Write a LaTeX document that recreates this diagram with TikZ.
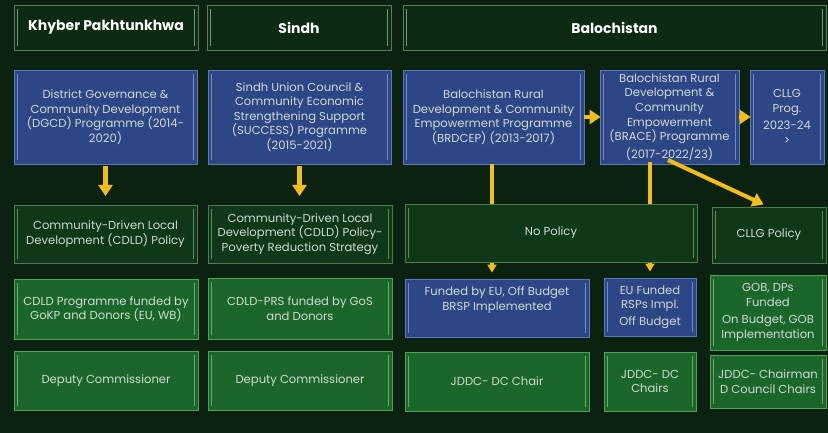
\documentclass[tikz,border=0pt]{standalone}
\usepackage{fontspec}
\setmainfont{Poppins}
\usepackage{tikz}
\usetikzlibrary{positioning,arrows.meta}
\definecolor{bgdark}{HTML}{0A220F}
\definecolor{headfill}{HTML}{0C2B12}
\definecolor{headline}{HTML}{5A7A5C}
\definecolor{bluefill}{HTML}{2C4686}
\definecolor{blueline}{HTML}{6F8CC8}
\definecolor{polfill}{HTML}{0E3817}
\definecolor{polline}{HTML}{4C7C4E}
\definecolor{greenfill}{HTML}{1B672B}
\definecolor{greenline}{HTML}{62AE62}
\definecolor{arrowyellow}{HTML}{F4BE16}
\definecolor{boxtext}{HTML}{D2DAD2}

\begin{document}
\begin{tikzpicture}[x=1pt,y=-1pt]
	\tikzset{
		bevel/.style={path picture={
			\draw[#1,line width=1.3pt] ([xshift=3.5pt,yshift=-4pt]path picture bounding box.north west) -- ([xshift=3.5pt,yshift=4pt]path picture bounding box.south west);
			\draw[#1,line width=1.3pt] ([xshift=-3.5pt,yshift=-4pt]path picture bounding box.north east) -- ([xshift=-3.5pt,yshift=4pt]path picture bounding box.south east);}},
		box/.style={rectangle, align=center, inner sep=1pt, line width=0.8pt, text=boxtext, font=\fontsize{11.6}{14.6}\selectfont},
		headbox/.style={box, fill=headfill, draw=headline, bevel=headline!80!white, text=white, font=\fontsize{14}{16}\selectfont\bfseries, minimum height=45},
		progbox/.style={box, fill=bluefill, draw=blueline!70!bluefill, bevel=blueline, minimum height=94},
		polbox/.style={box, fill=polfill, draw=polline, bevel=polline!90!white, minimum height=58},
		fundbox/.style={box, fill=greenfill, draw=greenline!80!greenfill, bevel=greenline},
		fatarrow/.style={draw=arrowyellow, line width=5pt, -{Triangle[width=14pt,length=11pt]}},
		yarrow/.style={draw=arrowyellow, line width=4pt, -{Triangle[width=9pt,length=8pt]}}
	}
	\fill[bgdark] (0,0) rectangle (828,433);
	\useasboundingbox (0,0) rectangle (828,433);

	% provinces
	\node[headbox, minimum width=184] (hkp) at (106,27.5) {Khyber Pakhtunkhwa};
	\node[headbox, minimum width=184] (hsindh) at (299,27.5) {Sindh};
	\node[headbox, minimum width=423] (hbal) at (614.5,27.5) {Balochistan};

	% programmes
	\node[progbox, minimum width=183] (dgcd) at (105.5,117) {District Governance \&\\Community Development\\(DGCD) Programme (2014-\\2020)};
	\node[progbox, minimum width=183] (success) at (299.5,117) {Sindh Union Council \&\\Community Economic\\Strengthening Support\\(SUCCESS) Programme\\(2015-2021)};
	\node[progbox, minimum width=181] (brdcep) at (493.5,117) {Balochistan Rural\\Development \& Community\\Empowerment Programme\\(BRDCEP) (2013-2017)};
	\node[progbox, minimum width=139] (brace) at (669.5,117) {Balochistan Rural\\Development \&\\Community\\Empowerment\\(BRACE) Programme\\[3pt](2017-2022/23)};
	\node[progbox, minimum width=74] (cllg) at (787,117) {CLLG\\[1pt]Prog.\\[2pt]2023-24\\[1pt]>};

	% funding (Balochistan)
	\node[progbox, minimum width=184, minimum height=58] (brsp) at (497,308) {Funded by EU, Off Budget\\BRSP Implemented\\[4pt]};
	\node[progbox, minimum width=92, minimum height=58] (eufund) at (650,307) {EU Funded\\RSPs Impl.\\[2pt]Off Budget};

	\path (dgcd) edge[fatarrow, shorten <=2, shorten >=9] (105.5,205);
	\path (success) edge[fatarrow, shorten <=2, shorten >=9] (299.5,205);
	\path (brdcep) edge[fatarrow, line width=4pt, shorten >=-1] (brace);
	\path (brace) edge[fatarrow, line width=4pt, shorten >=-1] (cllg);
	\draw[yarrow, shorten >=6] (brdcep.south -| 492,0) -- (brsp.north -| 492,0);
	\draw[yarrow, shorten >=6] ([yshift=2pt]brace.south -| eufund.north) -- (eufund.north);
	\draw[fatarrow, line width=4pt, shorten >=6] (668,160) -- (769,207);

	% policies
	\node[polbox, minimum width=183] (cdldkp) at (105.5,234) {Community-Driven Local\\Development (CDLD) Policy};
	\node[polbox, minimum width=184] (cdldsindh) at (300,234) {Community-Driven Local\\Development (CDLD) Policy-\\Poverty Reduction Strategy};
	\node[polbox, minimum width=292] (nopolicy) at (551,233) {No Policy};
	\node[polbox, minimum width=114, minimum height=56] (cllgpol) at (769,235) {CLLG Policy};

	% funding
	\node[fundbox, minimum width=184, minimum height=60] (fundkp) at (106,309) {CDLD Programme funded by\\GoKP and Donors (EU, WB)};
	\node[fundbox, minimum width=184, minimum height=61] (fundsindh) at (300,308.5) {CDLD-PRS funded by GoS\\and Donors};
	\node[fundbox, minimum width=116, minimum height=75] (gob) at (768,312.5) {GOB, DPs\\Funded\\[3pt]On Budget, GOB\\Implementation};

	% chairs
	\node[fundbox, minimum width=184, minimum height=59] (dckp) at (106,380.5) {Deputy Commissioner};
	\node[fundbox, minimum width=184, minimum height=59] (dcsindh) at (300,380.5) {Deputy Commissioner};
	\node[fundbox, minimum width=184, minimum height=59] (jddcbrsp) at (497,381.5) {JDDC- DC Chair};
	\node[fundbox, minimum width=92, minimum height=59] (jddcrsp) at (650,381.5) {JDDC- DC\\Chairs};
	\node[fundbox, minimum width=116, minimum height=53] (jddcgob) at (768,381.5) {JDDC- Chairman\\D Council Chairs};
\end{tikzpicture}
\end{document}
